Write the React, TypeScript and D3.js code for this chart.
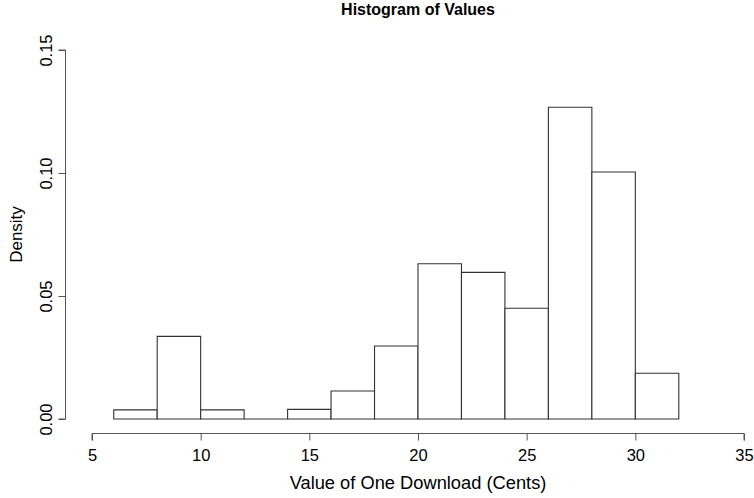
import { useEffect, useRef } from 'react';
import * as d3 from 'd3';

// histogram bins (cents) and their densities
const binEdges = [6, 8, 10, 12, 14, 16, 18, 20, 22, 24, 26, 28, 30, 32];
const densities = [0.0037, 0.0336, 0.0037, 0, 0.0039, 0.0114, 0.0297, 0.0631, 0.0596, 0.045, 0.1267, 0.1004, 0.0186];
const xTicks = [5, 10, 15, 20, 25, 30, 35];
const yTicks = [0, 0.05, 0.1, 0.15];

const W = 754;
const H = 498;
const FONT = '"Liberation Sans", Arial, Helvetica, sans-serif';

export default function App() {
  const svgRef = useRef<SVGSVGElement>(null);

  useEffect(() => {
    if (!svgRef.current) return;
    const svg = d3.select(svgRef.current);
    svg.selectAll('*').remove();

    const x = d3.scaleLinear().domain([5, 35]).range([92, 744]);
    const y = d3.scaleLinear().domain([0, 0.15]).range([419, 50]);

    const bins = densities.map((d, i) => ({ x0: binEdges[i], x1: binEdges[i + 1], d }));

    // bars (paths so that empty bins still draw their baseline)
    svg.append('g')
      .selectAll('path')
      .data(bins)
      .enter()
      .append('path')
      .attr('d', b => {
        const x0 = x(b.x0), x1 = x(b.x1), y0 = y(0), y1 = y(b.d);
        return `M${x0},${y0}V${y1}H${x1}V${y0}Z`;
      })
      .attr('fill', '#fff')
      .attr('stroke', '#333')
      .attr('stroke-width', 1.1);

    // x axis
    const gx = svg.append('g')
      .attr('transform', 'translate(0,433.5)')
      .call(d3.axisBottom(x).tickValues(xTicks).tickSize(7).tickFormat(d3.format('d')));
    gx.select('.domain').attr('stroke', '#555').attr('d', `M${x(5)},7V0H${x(35)}V7`);
    gx.selectAll('.tick line').attr('stroke', '#555');
    gx.selectAll('.tick text')
      .attr('y', 27)
      .attr('dy', 0)
      .attr('fill', '#000')
      .style('font-family', FONT)
      .style('font-size', '16.5px');

    // y axis, labels turned like R's default
    const gy = svg.append('g')
      .attr('transform', 'translate(65.5,0)')
      .call(d3.axisLeft(y).tickValues(yTicks).tickSize(7).tickFormat(d3.format('.2f')));
    gy.select('.domain').attr('stroke', '#555').attr('d', `M-7,${y(0.15)}H0V${y(0)}H-7`);
    gy.selectAll('.tick line').attr('stroke', '#555');
    gy.selectAll('.tick text')
      .attr('x', 0)
      .attr('dy', 0)
      .attr('transform', 'translate(-13.5,0) rotate(-90)')
      .attr('text-anchor', 'middle')
      .attr('fill', '#000')
      .style('font-family', FONT)
      .style('font-size', '16.5px');

    // titles
    svg.append('text')
      .attr('x', 418)
      .attr('y', 14.5)
      .attr('text-anchor', 'middle')
      .style('font-family', FONT)
      .style('font-size', '16px')
      .style('font-weight', 'bold')
      .text('Histogram of Values');

    svg.append('text')
      .attr('x', 418)
      .attr('y', 488.5)
      .attr('text-anchor', 'middle')
      .style('font-family', FONT)
      .style('font-size', '18.3px')
      .text('Value of One Download (Cents)');

    svg.append('text')
      .attr('transform', 'translate(21.5,234.5) rotate(-90)')
      .attr('text-anchor', 'middle')
      .style('font-family', FONT)
      .style('font-size', '17px')
      .text('Density');
  }, []);

  return (
    <svg
      ref={svgRef}
      width={W}
      height={H}
      style={{ position: 'absolute', left: 0, top: 0, background: '#fff', display: 'block' }}
    ></svg>
  );
}
